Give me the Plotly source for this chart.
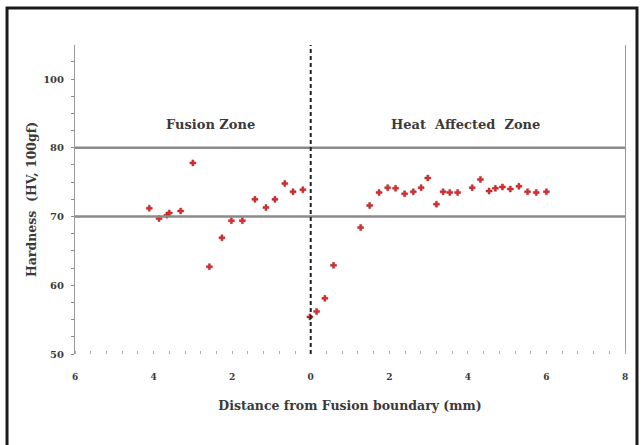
import plotly.graph_objects as go

# Distance from fusion boundary (mm) and hardness values
distance_mm = [-4.11, -3.86, -3.66, -3.60, -3.31, -3.00, -2.58, -2.26, -2.02, -1.74,
               -1.42, -1.14, -0.91, -0.66, -0.45, -0.20, -0.02, 0.15, 0.36, 0.58,
               1.27, 1.50, 1.74, 1.96, 2.16, 2.39, 2.61, 2.81, 2.98, 3.20,
               3.37, 3.54, 3.74, 4.11, 4.32, 4.54, 4.70, 4.88, 5.08, 5.30,
               5.52, 5.74, 6.00]
hardness = [71.2, 69.7, 70.2, 70.5, 70.8, 77.8, 62.7, 66.9, 69.4, 69.4,
            72.5, 71.3, 72.5, 74.8, 73.6, 73.9, 55.4, 56.2, 58.1, 62.9,
            68.4, 71.6, 73.5, 74.2, 74.1, 73.3, 73.6, 74.2, 75.6, 71.8,
            73.6, 73.5, 73.5, 74.2, 75.4, 73.7, 74.1, 74.3, 74.0, 74.4,
            73.6, 73.5, 73.6]

x_tick_vals = [-6, -4, -2, 0, 2, 4, 6, 8]
x_tick_text = ["6", "4", "2", "0", "2", "4", "6", "8"]
y_tick_vals = [50, 60, 70, 80, 90]
y_tick_text = ["50", "60", "70", "80", "100"]
limit_lines = [70, 80]
zone_labels = ["Fusion Zone", "Heat  Affected  Zone"]
zone_label_x = [-2.54, 3.94]
zone_label_y = 83.45

serif = "DejaVu Serif"
txt = "#3a3a3a"

fig = go.Figure()
fig.add_trace(go.Scatter(
    x=distance_mm, y=hardness, mode="markers",
    marker=dict(symbol="cross", size=5, color="#e02a2f",
                line=dict(width=0.4, color="#8b1a1a")),
    showlegend=False, hoverinfo="x+y"))

for v in limit_lines:
    fig.add_hline(y=v, line=dict(color="#8a8a8a", width=2.5))

fig.add_vline(x=0, line=dict(color="#222222", width=2, dash="4px,3px"))

for t, xv in zip(zone_labels, zone_label_x):
    fig.add_annotation(x=xv, y=zone_label_y, text="<b>%s</b>" % t, showarrow=False,
                       font=dict(family=serif, size=13, color=txt))

# outer frame
fig.add_shape(type="rect", xref="paper", yref="paper",
              x0=-0.1236, x1=1.0218, y0=-0.35, y1=1.1197,
              line=dict(color="#1a1a1a", width=3), layer="above")

fig.update_layout(
    width=641, height=445,
    margin=dict(l=75, r=16, t=45, b=91),
    paper_bgcolor="white", plot_bgcolor="white",
    font=dict(family=serif, color=txt),
)
fig.update_xaxes(
    range=[-6, 8], tickvals=x_tick_vals, ticktext=["<b>%s</b>" % t for t in x_tick_text],
    tickfont=dict(family=serif, size=9, color=txt),
    showgrid=False, zeroline=False, showline=False, automargin=False,
    ticks="", ticklabelstandoff=16,
    minor=dict(dtick=0.4, tick0=0, ticks="inside", ticklen=3, tickcolor="#aaaaaa", tickwidth=1),
    title=dict(text="<b>Distance from Fusion boundary (mm)</b>",
               font=dict(family=serif, size=12.5, color=txt), standoff=20),
)
fig.update_yaxes(
    range=[50, 94.95], tickvals=y_tick_vals, ticktext=["<b>%s</b>" % t for t in y_tick_text],
    tickfont=dict(family=serif, size=10, color=txt),
    showgrid=False, zeroline=False, showline=True, mirror=True, automargin=False,
    linecolor="#9a9a9a", linewidth=1,
    ticks="", ticklabelstandoff=8,
    minor=dict(dtick=2.5, tick0=50, ticks="outside", ticklen=3, tickcolor="#888888", tickwidth=1),
    title=dict(text="<b>Hardness  (HV, 100gf)</b>",
               font=dict(family=serif, size=12.5, color=txt), standoff=3),
)

fig.write_html("out.html", config={"displayModeBar": False},
               post_script="document.body.style.margin='0';")
